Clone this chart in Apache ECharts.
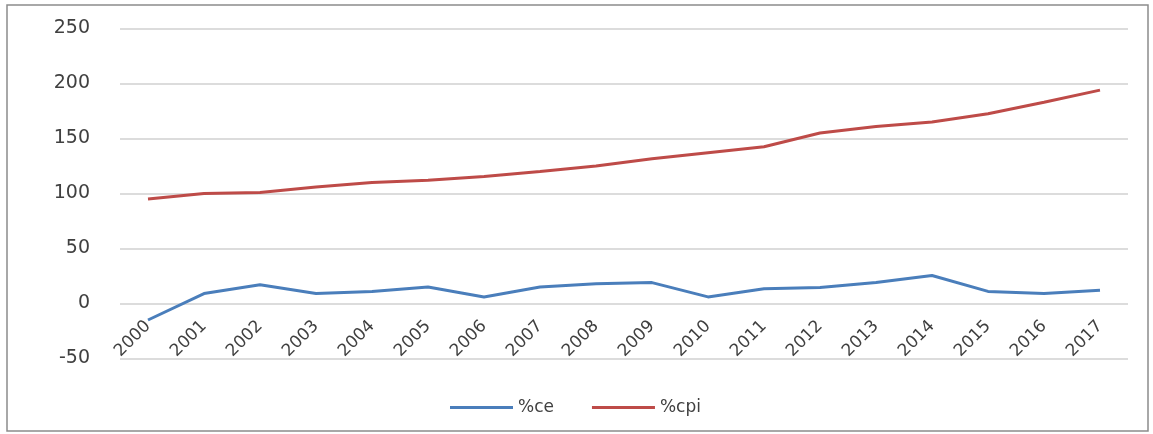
<!DOCTYPE html>
<html>
<head>
<meta charset="utf-8">
<script src="https://cdn.jsdelivr.net/npm/echarts@6/dist/echarts.min.js"></script>
<style>
  html, body { margin: 0; padding: 0; background: #ffffff; }
  #chart { width: 1153px; height: 434px; }
</style>
</head>
<body>
<div id="chart"></div>
<script>
// Years on the category axis
const years = ['2000', '2001', '2002', '2003', '2004', '2005', '2006', '2007', '2008',
               '2009', '2010', '2011', '2012', '2013', '2014', '2015', '2016', '2017'];

// Series values
const ceValues  = [-15, 9, 17, 9, 11, 15, 6, 15, 18, 19, 6, 13.5, 14.5, 19, 25.5, 11, 9, 12];
const cpiValues = [95, 100, 101, 106, 110, 112, 115.5, 120, 125, 131.5, 137, 142.5, 155, 161, 165, 172.5, 183, 194];

// Value axis range
const yMin = -50;
const yMax = 250;
const yStep = 50;

const seriesNames = ['%ce', '%cpi'];
const seriesColors = ['#4A7EBB', '#BE4B48'];

const gridTop = 28.5;
const gridHeight = 330;
// Category labels sit on the zero line, so shift the axis up by the distance from yMin to 0
const zeroOffset = -gridHeight * (0 - yMin) / (yMax - yMin);

const chart = echarts.init(document.getElementById('chart'), null, { renderer: 'canvas' });

const font = 'DejaVu Sans, Verdana, sans-serif';

chart.setOption({
  animation: false,
  backgroundColor: '#ffffff',
  graphic: [{
    type: 'rect',
    shape: { x: 7, y: 5, width: 1141, height: 426 },
    style: { fill: 'none', stroke: '#8c8c8c', lineWidth: 1.5 },
    silent: true,
    z: -1
  }],
  grid: { left: 120, right: 25, top: gridTop, height: gridHeight },
  legend: {
    bottom: 13,
    left: 445,
    itemWidth: 63,
    itemHeight: 3,
    itemGap: 38,
    icon: 'rect',
    textStyle: { fontFamily: font, fontSize: 17, color: '#404040' },
    data: seriesNames
  },
  xAxis: {
    type: 'category',
    data: years,
    boundaryGap: true,
    position: 'bottom',
    offset: zeroOffset,
    axisLine: { show: false, onZero: false },
    axisTick: { show: false },
    axisLabel: {
      rotate: 45,
      margin: 20,
      interval: 0,
      fontFamily: font,
      fontSize: 17,
      color: '#404040'
    },
    splitLine: { show: false }
  },
  yAxis: {
    type: 'value',
    min: yMin,
    max: yMax,
    interval: yStep,
    axisLine: { show: false },
    axisTick: { show: false },
    axisLabel: {
      margin: 30,
      fontFamily: font,
      fontSize: 19,
      color: '#404040'
    },
    splitLine: { lineStyle: { color: '#d0d0d0', width: 1.5 } }
  },
  series: [
    {
      name: seriesNames[0],
      type: 'line',
      data: ceValues,
      symbol: 'none',
      lineStyle: { color: seriesColors[0], width: 3 },
      itemStyle: { color: seriesColors[0] }
    },
    {
      name: seriesNames[1],
      type: 'line',
      data: cpiValues,
      symbol: 'none',
      lineStyle: { color: seriesColors[1], width: 3 },
      itemStyle: { color: seriesColors[1] }
    }
  ]
});
</script>
</body>
</html>
